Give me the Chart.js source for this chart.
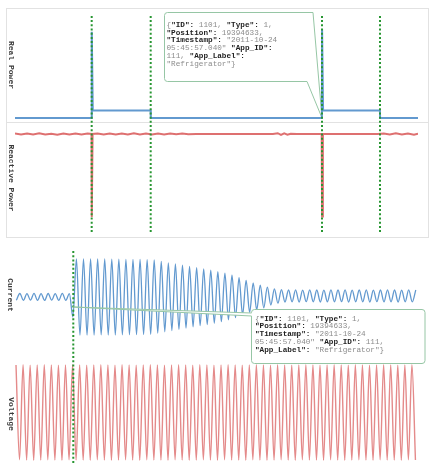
<!DOCTYPE html>
<html><head><meta charset="utf-8">
<script src="https://cdn.jsdelivr.net/npm/chart.js@4.4.1/dist/chart.umd.min.js"></script>
<style>
html,body{margin:0;padding:0;background:#fff;width:433px;height:463px;overflow:hidden;}
#wrap{position:relative;width:433px;height:463px;}
canvas{position:absolute;left:0;}
.frame{position:absolute;left:6px;top:8px;width:423px;height:230px;box-sizing:border-box;border:1px solid #e2e2e2;}
.sep{position:absolute;left:6px;top:122px;width:423px;height:1px;background:#e2e2e2;}
.ylab{position:absolute;font:bold 8px "Liberation Mono",monospace;color:#3a3a3a;white-space:nowrap;transform:translate(-50%,-50%) rotate(90deg);}
.tip{position:absolute;font:7.7px/7.8px "Liberation Mono",monospace;color:#8c8c8c;white-space:pre;}
.tip b{color:#1e1e1e;}
</style></head>
<body><div id="wrap">
<div class="frame"></div><div class="sep"></div>
<canvas id="topChart" width="433" height="240" style="top:0"></canvas>
<canvas id="botChart" width="433" height="223" style="top:240px"></canvas>
<div class="ylab" style="left:10.7px;top:65px">Real Power</div>
<div class="ylab" style="left:11px;top:178px">Reactive Power</div>
<div class="ylab" style="left:10px;top:295px">Current</div>
<div class="ylab" style="left:10.5px;top:414px">Voltage</div>
<div class="tip" style="left:166.5px;top:21.8px">{<b>"ID":</b> 1101, <b>"Type":</b> 1,
<b>"Position":</b> 19394633,
<b>"Timestamp":</b> "2011-10-24
05:45:57.040" <b>"App_ID":</b>
111, <b>"App_Label":</b>
"Refrigerator"}</div>
<div class="tip" style="left:255px;top:315.6px">{<b>"ID":</b> 1101, <b>"Type":</b> 1,
<b>"Position":</b> 19394633,
<b>"Timestamp":</b> "2011-10-24
05:45:57.040" <b>"App_ID":</b> 111,
<b>"App_Label":</b> "Refrigerator"}</div>
</div>
<script>
// ---------- DATA ----------
// Top panel: aggregate power over time (s)
const powerEventTimes = [19.03, 33.67, 76.18, 90.57];
const realTime  = [0, 19.0, 19.05, 19.3, 33.65, 33.7, 76.15, 76.2, 76.45, 90.55, 90.6, 100];
const realWatts = [5, 5, 1115, 100, 100, 5, 5, 1145, 100, 100, 5, 5];
const reactTime = [0, 1.5, 3, 4.5, 6, 7.5, 9, 10.5, 12, 13.5, 15, 16.5, 18, 19.0, 19.05, 19.25,
  20.5, 22, 23.5, 25, 26.5, 28, 29.5, 31, 32.5, 34, 35.5, 37, 38.5, 40, 41.5, 43, 45, 55, 64,
  65.2, 66, 66.8, 67.6, 68.4, 70, 76.1, 76.2, 76.4, 85, 90, 91.5, 93, 94.5, 96, 97.5, 99, 100];
const reactVar = [4, -5, 6, -4, 7, -6, 3, -7, 5, -4, 6, -5, 4, 0, -830, 0,
  5, -4, 6, -6, 4, -5, 7, -4, 5, -6, 4, -5, 6, -3, 4, -2, 0, 1, 0,
  8, -9, 7, -6, 3, 0, 0, -825, 0, 1, 0, 6, -5, 7, -6, 5, -7, 4];

// Bottom panel: waveforms around the switch-on event (ms), one value per half cycle
const waveEventTimes = [137.4];
const halfCycleMs = 8.333;
const currentFirstMs = 3.15;
const voltageFirstMs = 2.36;
const currentExtremes = [
  -0.32, 0.35, -0.33, 0.34, -0.31, 0.36, -0.33, 0.33, -0.34, 0.35, -0.32, 0.34, -0.33, 0.36, -0.34, 0.33,
  -2.0,
  3.80, -3.82, 3.81, -3.80, 3.82, -3.81, 3.80, -3.79, 3.81, -3.80, 3.79, -3.80, 3.78, -3.79, 3.77, -3.78,
  3.76, -3.77, 3.75, -3.75, 3.73, -3.73,
  3.70, -3.62, 3.55, -3.48, 3.42, -3.36, 3.30, -3.24, 3.18, -3.12, 3.05, -2.99, 2.93, -2.87, 2.81, -2.75,
  2.68, -2.61, 2.54, -2.47, 2.38, -2.28, 2.18, -2.06, 1.94, -1.80, 1.66, -1.54, 1.42, -1.30, 1.18, -1.08,
  0.98, -0.80, 0.82, -0.62, 0.74,
  -0.50, 0.70, -0.48, 0.72, -0.50, 0.69, -0.47, 0.71, -0.49, 0.70, -0.50, 0.68, -0.48, 0.71, -0.49, 0.70,
  -0.47, 0.72, -0.50, 0.69, -0.48, 0.70, -0.49, 0.71, -0.50, 0.69, -0.47, 0.70, -0.49, 0.72, -0.48, 0.70,
  -0.50, 0.69, -0.48, 0.71, -0.49, 0.70
];
const voltageExtremes = [
  170,-169,171,-170,169,-171,170,-170,171,-169,170,-170,
  169,-171,170,-169,171,-170,170,-170,169,-171,170,-169,
  171,-170,170,-171,169,-170,171,-169,170,-170,169,-171,
  170,-169,171,-170,170,-170,169,-171,170,-169,171,-170,
  170,-171,169,-170,171,-169,170,-170,169,-171,170,-169,
  171,-170,170,-170,169,-171,170,-169,171,-170,170,-171,
  169,-170,171,-169,170,-170,169,-171,170,-169,171,-170,
  170,-170,169,-171,170,-169,171,-170,170,-171,169,-170,
  171,-169,170,-170,169,-171,170,-169,171,-170,170,-170,
  169,-171,170,-169,171,-170
];

// ---------- helpers ----------
const zip = (xs, ys) => xs.map((x, i) => ({x, y: ys[i]}));
const series = (start, vals) => vals.map((v, i) => ({x: start + i * halfCycleMs, y: v}));
const eventLines = (times, lo, hi) => times.flatMap(t => [{x: t, y: lo}, {x: t, y: hi}, {x: t, y: null}]);

const GREEN = 'rgb(40,150,50)';
const BLUE = 'rgb(98,153,207)';
const RED = 'rgb(222,112,112)';
const VRED = 'rgb(228,138,138)';
const CALLOUT = 'rgb(150,198,165)';

function roundedPath(ctx, pts) { for (const [f, a, b, c, d, r] of pts) { if (f === 'm') ctx.moveTo(a, b); else if (f === 'l') ctx.lineTo(a, b); else ctx.arcTo(a, b, c, d, r); } }

const calloutPlugin = {
  id: 'callout',
  beforeDatasetsDraw(chart, args, o) { if (o.layer === 'below') draw(chart, o); },
  afterDatasetsDraw(chart, args, o) { if (o.layer === 'above') draw(chart, o); }
};
function draw(chart, o) {
  const ctx = chart.ctx;
  const tx = chart.scales.x.getPixelForValue(o.tipX);
  const ty = chart.scales[o.axis].getPixelForValue(o.tipY);
  const r = 3;
  ctx.save();
  ctx.beginPath();
  if (o.kind === 'right') {
    const {L, T, R1, R2, B} = o.box;
    roundedPath(ctx, [['m', L + r, T], ['l', R1, T], ['l', tx, ty], ['l', R2, B], ['l', L + r, B],
      ['a', L, B, L, B - r, r], ['l', L, T + r], ['a', L, T, L + r, T, r]]);
  } else {
    const {L, T, R, B, w1, w2} = o.box;
    roundedPath(ctx, [['m', L + r, T], ['l', R - r, T], ['a', R, T, R, T + r, r], ['l', R, B - r],
      ['a', R, B, R - r, B, r], ['l', L + r, B], ['a', L, B, L, B - r, r], ['l', L, w2], ['l', tx, ty],
      ['l', L, w1], ['l', L, T + r], ['a', L, T, L + r, T, r]]);
  }
  ctx.closePath();
  ctx.fillStyle = '#fff';
  ctx.fill();
  ctx.strokeStyle = CALLOUT;
  ctx.lineWidth = 1;
  ctx.stroke();
  ctx.restore();
}

const hidden = (min, max) => ({display: false, min, max});

new Chart(document.getElementById('topChart'), {
  type: 'line',
  plugins: [calloutPlugin],
  data: {datasets: [
    {label: 'Events', data: eventLines(powerEventTimes, 0.013, 0.978), yAxisID: 'yMark',
     borderColor: GREEN, borderWidth: 2, borderDash: [2, 2.2], pointRadius: 0, spanGaps: false},
    {label: 'Real Power', data: zip(realTime, realWatts), yAxisID: 'yReal',
     borderColor: BLUE, borderWidth: 2, pointRadius: 0, tension: 0},
    {label: 'Reactive Power', data: zip(reactTime, reactVar), yAxisID: 'yReact',
     borderColor: RED, borderWidth: 2, pointRadius: 0, tension: 0}
  ]},
  options: {
    responsive: false, animation: false, devicePixelRatio: 1, events: [],
    layout: {padding: {left: 15, right: 15, top: 10, bottom: 5}},
    plugins: {legend: {display: false}, tooltip: {enabled: false},
      callout: {layer: 'below', kind: 'right', axis: 'yReal', tipX: powerEventTimes[2], tipY: realWatts[0],
        box: {L: 164.5, T: 12.5, R1: 313, R2: 307, B: 81.5}}},
    scales: {
      x: {type: 'linear', display: false, min: 0, max: 100},
      yReal: hidden(-1499.3, 1393.6),
      yReact: hidden(-1010, 1240),
      yMark: hidden(0, 1)
    }
  }
});

new Chart(document.getElementById('botChart'), {
  type: 'line',
  plugins: [calloutPlugin],
  data: {datasets: [
    {label: 'Event', data: eventLines(waveEventTimes, 0, 0.99), yAxisID: 'yMark',
     borderColor: GREEN, borderWidth: 2, borderDash: [2, 2.2], pointRadius: 0, spanGaps: false},
    {label: 'Current', data: series(currentFirstMs, currentExtremes), yAxisID: 'yCur',
     borderColor: BLUE, borderWidth: 1.3, pointRadius: 0, cubicInterpolationMode: 'monotone'},
    {label: 'Voltage', data: series(voltageFirstMs, voltageExtremes), yAxisID: 'yVolt',
     borderColor: VRED, borderWidth: 1.4, pointRadius: 0, cubicInterpolationMode: 'monotone'}
  ]},
  options: {
    responsive: false, animation: false, devicePixelRatio: 1, events: [],
    layout: {padding: {left: 15, right: 15, top: 8, bottom: 0}},
    plugins: {legend: {display: false}, tooltip: {enabled: false},
      callout: {layer: 'above', kind: 'left', axis: 'yCur', tipX: waveEventTimes[0], tipY: -1.0,
        box: {L: 251.5, T: 69.5, R: 425, B: 123.5, w1: 73, w2: 76}}},
    scales: {
      x: {type: 'linear', display: false, min: 0, max: 950},
      yCur: hidden(-16.6, 4.9),
      yVolt: hidden(-180.8, 588.7),
      yMark: hidden(0, 1)
    }
  }
});
</script>
</body></html>
